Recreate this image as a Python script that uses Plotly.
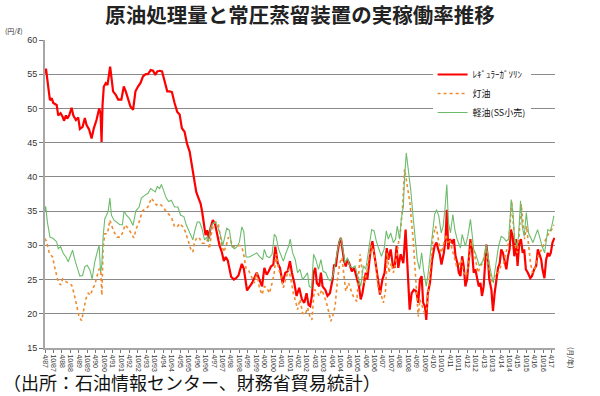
import plotly.graph_objects as go

# months since April 1987
gasoline_m = [0.0,0.7,2.4,3.5,4.7,5.9,8.3,9.4,11.1,12.5,13.5,14.9,15.8,17.2,18.9,20.1,22.0,23.6,24.8,26.7,28.3,29.5,31.4,33.1,34.7,36.6,38.5,39.5,40.2,40.9,41.8,43.2,44.4,45.6,46.3,47.3,48.4,50.3,52.0,54.3,56.0,57.4,59.1,60.7,62.6,64.3,66.1,67.8,69.7,71.6,
 73.2,75.1,76.8,78.4,79.8,81.5,83.2,85.0,86.9,88.6,90.2,92.1,94.0,95.7,97.3,99.2,100.9,102.8,104.0,105.4,106.3,107.5,109.1,110.6,111.7,112.9,114.1,115.3,116.5,117.6,119.3,121.0,122.4,124.0,125.7,127.1,128.5,129.9,131.1,132.3,134.2,135.8,137.5,138.9,139.9,141.3,142.5,143.6,
 147.2,148.8,150.5,152.4,154.3,155.9,157.6,159.0,160.6,162.3,163.7,165.4,167.0,168.9,170.8,172.5,174.1,175.5,177.2,178.8,180.7,182.6,184.3,185.9,187.3,188.5,189.7,190.9,192.1,193.2,194.9,196.1,197.3,199.2,200.8,202.5,204.4,205.5,206.7,207.9,209.1,210.3,211.4,212.6,213.8,215.0,216.2,218.1,219.7,
 221.6,223.2,224.4,225.6,226.8,228.0,229.1,230.3,231.5,232.7,233.9,235.1,236.7,238.1,239.8,241.4,242.9,244.0,245.7,247.3,248.5,249.9,251.1,252.8,254.7,256.3,257.5,259.2,260.6,262.2,263.9,265.3,266.5,267.7,268.8,270.0,271.0,272.1,273.6,275.2,276.9,278.3,279.5,280.6,281.8,283.5,284.7,285.6,286.6,287.7,289.4,290.6,291.8,293.4,
 294.1,295.3,296.5,297.6,298.8,300.0,301.2,302.4,303.5,304.7,305.9,307.1,308.3,309.5,310.6,311.8,313.0,313.7,314.9,315.8,317.3,318.4,319.6,320.8,322.0,323.2,324.3,325.5,326.7,327.9,329.1,330.2,331.2,332.4,333.6,334.7,335.9,337.1,338.3,339.5,340.6,341.8,343.2,344.9,346.1,347.7,349.1,350.3,351.5,352.7,353.6,355.0,356.2,357.4,358.4,359.5,360.7,362.1]
gasoline_v = [55.1,55.8,53.0,51.2,51.5,50.8,50.5,49.0,49.3,48.8,48.2,49.0,48.5,49.0,50.1,49.0,48.3,48.7,47.0,47.3,48.6,47.6,46.9,45.6,47.1,48.3,50.0,49.3,45.1,50.5,53.2,53.7,53.4,54.9,56.1,54.4,52.5,52.0,51.3,51.3,53.2,52.5,51.2,50.3,49.8,52.5,53.2,53.7,54.7,55.0,
 55.0,55.6,55.5,54.9,55.4,55.5,55.4,53.9,52.5,52.5,52.4,50.8,49.5,49.1,47.1,46.6,44.9,43.7,42.2,40.3,39.3,37.8,36.9,36.1,34.9,33.0,31.5,32.2,31.0,32.5,33.7,33.0,31.5,30.0,29.0,27.7,28.3,27.8,26.6,25.4,25.0,25.2,25.6,26.6,27.3,26.6,24.7,23.4,
 24.5,25.2,26.0,25.0,24.0,26.7,25.7,26.2,26.9,27.2,29.8,27.4,26.7,24.5,26.0,26.2,27.7,26.0,24.5,22.6,23.8,22.1,21.6,23.0,21.3,21.1,22.6,26.0,26.7,24.5,24.0,26.0,24.0,23.5,22.6,23.0,25.0,27.2,26.9,28.9,30.4,31.1,29.4,27.7,26.9,27.9,27.4,26.2,26.7,
 25.2,24.0,22.1,23.0,24.5,26.0,25.0,27.4,29.4,30.6,29.1,27.2,25.0,22.8,25.0,26.0,29.6,27.9,29.4,27.0,26.7,29.9,26.7,28.7,27.4,32.3,27.0,20.6,23.0,23.5,23.3,21.6,25.0,25.5,21.6,21.1,19.1,23.0,24.5,27.9,29.9,30.4,29.4,28.7,27.2,28.9,30.9,35.2,29.4,30.9,30.4,30.9,28.4,27.2,
 26.0,25.5,28.4,27.0,24.0,25.0,27.9,30.9,29.4,26.0,26.5,25.0,24.0,24.5,22.6,24.0,27.9,30.1,27.9,25.0,23.5,20.4,23.0,25.0,26.7,27.4,29.4,28.9,27.9,26.5,28.4,29.4,32.3,31.3,28.4,30.9,27.0,30.4,30.9,28.9,29.4,26.5,26.0,25.2,25.5,26.5,27.0,29.4,28.7,27.9,26.5,25.2,27.9,28.9,28.4,28.9,30.4,31.1]

kerosene_m = [0.0,1.2,3.1,5.4,7.1,9.4,11.1,12.5,14.9,17.2,18.9,20.6,22.4,24.3,26.0,27.2,29.1,30.7,32.4,33.8,35.4,37.1,38.5,39.7,40.4,41.3,42.5,44.4,46.1,47.2,48.9,51.3,53.6,55.5,56.9,59.1,61.4,63.1,65.0,66.9,69.2,71.6,
 73.2,75.6,77.5,79.1,81.5,83.9,86.2,88.6,90.2,92.1,94.0,95.7,98.0,99.7,101.6,103.5,105.1,106.3,108.2,109.9,111.5,113.4,115.3,116.9,118.1,120.0,121.7,123.3,125.2,127.1,128.8,130.4,131.8,133.5,135.8,138.2,139.9,141.3,142.9,144.6,
 147.2,148.8,150.5,152.4,154.3,155.9,157.6,159.5,161.4,163.0,164.2,166.1,167.7,169.4,171.3,173.2,174.8,176.5,178.4,179.5,181.2,183.1,185.0,186.6,188.3,189.7,191.4,193.2,194.9,196.8,198.4,200.1,201.5,203.2,204.8,206.2,207.9,209.5,211.0,212.1,213.8,215.7,217.3,219.0,
 221.6,222.5,224.0,225.6,226.8,228.7,230.3,232.0,233.4,235.1,236.7,238.6,240.5,242.1,243.3,244.5,246.2,247.6,249.2,250.9,252.8,254.2,255.6,256.8,258.0,259.4,260.6,261.7,262.9,264.1,265.3,266.5,268.1,269.8,271.2,272.9,274.5,275.9,277.6,278.8,280.4,281.8,283.5,285.1,286.3,287.7,289.4,291.0,292.5,
 294.1,296.0,297.6,299.3,301.2,303.1,304.7,306.4,307.8,309.5,311.1,313.0,314.7,316.1,317.7,318.9,320.6,322.4,324.1,326.0,327.6,329.5,330.7,331.7,332.8,334.3,335.7,337.1,338.5,339.7,340.9,342.3,343.7,345.1,346.5,348.0,349.6,351.3,353.2,355.1,356.7,358.4,360.2,361.7]
kerosene_v = [31.0,30.5,28.8,28.3,26.6,24.7,24.2,25.1,24.7,24.4,24.2,23.0,21.2,19.5,19.0,20.3,22.2,23.0,22.7,23.7,24.2,25.6,26.6,26.1,22.7,29.5,31.7,31.7,33.7,33.0,32.0,31.2,31.2,32.0,33.0,32.5,31.7,31.1,32.5,33.4,35.0,35.4,
 35.6,36.9,36.4,35.9,36.1,35.6,34.9,34.4,33.9,32.7,32.7,33.2,32.7,32.0,30.8,29.5,29.0,30.5,31.2,31.0,30.3,30.3,30.8,29.5,31.5,33.2,33.4,33.0,30.5,29.0,30.0,31.2,30.8,29.8,29.8,30.0,29.8,28.6,26.6,26.4,
 25.2,24.5,26.0,23.8,22.8,24.0,23.8,23.0,24.5,26.0,28.7,26.5,25.5,23.8,25.2,26.5,25.0,23.0,21.6,20.6,22.1,20.1,19.9,20.9,19.6,19.1,23.5,23.3,22.6,23.5,22.6,21.6,20.4,18.9,19.9,21.1,25.0,27.4,28.2,26.0,23.3,24.5,23.5,22.6,
 21.8,25.0,28.7,26.0,24.5,26.0,28.4,29.9,29.4,27.0,24.0,23.0,21.6,23.5,28.9,26.0,27.4,26.0,27.4,29.9,32.3,35.7,41.1,39.6,38.2,36.2,33.3,30.9,27.0,22.6,19.6,22.1,21.1,20.1,20.6,24.0,27.9,31.3,32.8,31.8,29.9,28.9,30.4,31.6,30.4,30.9,29.4,27.9,27.0,
 27.0,27.9,26.0,25.5,27.4,30.9,29.4,27.4,26.0,27.0,27.4,29.4,27.4,26.2,24.8,25.0,26.0,26.0,27.0,27.4,28.9,30.4,33.3,36.5,33.3,29.9,28.9,31.8,36.0,33.3,30.9,32.8,29.9,27.4,26.0,26.5,27.9,28.9,29.4,30.4,31.3,31.8,32.3,33.0]

diesel_m = [0.0,0.5,1.7,3.5,5.9,8.3,9.4,11.1,13.0,14.9,16.5,18.2,19.6,21.3,23.2,24.8,26.7,28.3,30.0,31.9,33.5,35.4,37.1,38.5,39.5,40.4,41.3,42.5,43.7,44.9,46.1,47.2,48.9,50.8,53.2,55.0,56.2,57.9,60.2,62.6,64.5,66.9,68.5,70.9,
 73.2,75.1,76.8,78.4,79.8,81.5,82.7,84.3,86.2,87.9,89.8,92.1,94.5,96.4,98.7,100.4,102.8,105.1,106.3,108.2,109.9,111.5,113.4,115.0,116.2,117.6,119.3,121.2,122.8,124.7,126.4,127.6,129.2,131.1,132.8,134.7,136.5,138.2,139.9,141.3,142.9,145.3,
 148.8,150.5,152.4,154.7,155.9,157.6,159.5,161.4,163.0,164.2,166.1,167.7,169.4,171.3,173.2,174.3,176.0,177.9,179.5,181.2,183.1,185.0,186.6,187.8,189.5,190.9,192.5,194.4,196.1,197.7,199.6,201.5,203.2,204.8,206.2,207.9,209.1,210.5,211.9,213.3,215.0,216.6,218.5,220.4,
 221.6,223.2,224.4,226.3,228.0,229.6,231.0,232.2,233.9,235.5,237.4,239.1,241.0,242.6,244.0,245.7,247.6,249.2,250.4,252.1,253.2,254.7,255.6,256.8,258.2,259.9,261.5,262.9,264.6,266.2,267.7,269.3,271.0,272.4,274.0,275.5,276.9,278.3,279.9,281.6,283.0,284.4,285.6,286.8,288.2,289.9,291.3,292.9,294.8,
 295.3,296.5,297.6,298.8,300.5,302.4,303.5,304.7,305.9,307.1,308.7,310.2,311.8,313.5,314.9,316.1,317.3,318.7,319.6,320.8,322.4,324.3,326.0,327.9,329.5,330.7,331.4,332.6,333.8,335.4,336.6,338.0,339.2,340.6,342.1,343.7,345.4,346.8,348.4,350.1,351.5,353.2,355.1,356.2,357.4,359.1,360.2,361.7]
diesel_v = [35.0,35.7,33.4,31.2,31.0,30.5,29.5,29.8,28.8,28.3,27.6,28.6,29.3,27.8,26.4,25.5,25.6,26.9,27.1,26.4,25.1,27.6,29.0,30.0,26.1,27.1,31.2,33.9,34.4,35.0,36.9,34.4,33.7,33.4,33.0,33.0,35.0,34.4,33.9,32.9,35.0,35.6,36.9,37.3,
 37.6,38.3,38.1,37.8,38.6,38.3,38.9,38.1,36.9,36.4,36.6,35.6,35.6,34.4,34.2,33.0,32.0,30.8,32.0,33.4,33.4,32.5,30.8,31.2,30.5,32.5,33.2,33.4,32.7,31.5,30.0,31.2,32.5,32.2,29.8,29.5,29.8,30.5,32.7,32.0,28.3,28.3,
 28.7,28.9,28.4,27.9,29.4,28.4,28.2,28.7,31.6,31.3,29.4,28.7,27.7,28.9,29.9,30.9,28.9,27.9,26.0,26.5,25.0,25.5,26.0,24.0,23.8,28.7,27.9,26.5,27.9,26.2,26.0,25.0,24.8,25.7,27.4,29.1,30.6,31.1,29.4,27.4,28.2,27.0,26.7,27.0,
 26.0,25.0,24.0,27.0,26.5,28.7,30.9,32.3,32.1,30.6,29.4,28.4,29.4,32.1,30.9,31.8,30.4,30.9,32.8,30.9,33.8,35.7,40.1,43.5,41.1,38.2,34.5,30.9,27.9,26.5,28.9,26.0,24.0,26.0,29.4,32.3,34.5,35.2,34.3,31.8,32.8,35.6,38.9,33.3,31.8,34.5,32.3,30.9,29.9,
 29.6,31.6,30.9,29.9,31.3,33.8,31.8,29.4,28.9,27.9,27.0,27.4,27.9,30.1,28.7,27.0,25.7,24.5,26.0,27.9,29.9,31.3,31.1,30.6,30.9,34.3,36.7,34.8,30.9,29.9,31.3,36.5,32.8,31.3,34.8,31.8,30.9,30.4,31.3,32.3,31.3,29.9,28.9,30.9,32.3,32.1,32.8,34.3]

tick_months = list(range(0, 361, 6))
tick_labels = ["4/87","10/87","4/88","10/88","4/89","10/89","4/90","10/90","4/91","10/91",
               "4/92","10/92","4/93","10/93","4/94","10/94","4/95","10/95","4/96","10/96",
               "4/97","10/97","4/98","10/98","4/99","10/99","4/00","10/00","4/01","10/01",
               "4/02","10/02","4/03","10/03","4/04","10/04","4/05","10/05","4/06","10/06",
               "4/07","10/07","4/08","10/08","4/09","10/09","4/10","10/10","4/11","10/11",
               "4/12","10/12","4/13","10/13","4/14","10/14","4/15","10/15","4/16","10/16","4/17"]
series_names = ["ﾚｷﾞｭﾗｰｶﾞｿﾘﾝ", "灯油", "軽油(SS小売)"]

JP = "Noto Sans CJK JP"

fig = go.Figure()
fig.add_trace(go.Scatter(x=gasoline_m, y=gasoline_v, mode="lines", name=series_names[0],
                         line=dict(color="#ff0000", width=2.2)))
fig.add_trace(go.Scatter(x=kerosene_m, y=kerosene_v, mode="lines", name=series_names[1],
                         line=dict(color="#f08a2c", width=1.6, dash="dot")))
fig.add_trace(go.Scatter(x=diesel_m, y=diesel_v, mode="lines", name=series_names[2],
                         line=dict(color="#6cbc6c", width=1.1)))

fig.update_layout(
    width=600, height=396,
    margin=dict(l=45, r=45, t=40, b=48),
    paper_bgcolor="white", plot_bgcolor="white",
    font=dict(family=JP, color="#222"),
    title=dict(text="<b>原油処理量と常圧蒸留装置の実稼働率推移</b>",
               x=0.5, xanchor="center", y=0.961, yanchor="middle",
               font=dict(size=20.5, family=JP, color="#222")),
    legend=dict(x=0.76, y=0.935, xanchor="left", yanchor="top",
                bgcolor="white", font=dict(size=9, family=JP, color="#111"),
                itemwidth=30, tracegroupgap=5),
    showlegend=True,
)
fig.update_xaxes(range=[0, 362.5], tickmode="array", tickvals=tick_months, ticktext=tick_labels,
                 tickangle=90, tickfont=dict(size=7, family="Liberation Sans", color="#333"),
                 showgrid=False, zeroline=False, showline=True, linecolor="#a6a6a6", linewidth=2,
                 ticks="outside", ticklen=3, tickcolor="#777", automargin=False)
fig.update_yaxes(range=[15, 60], dtick=5, tickfont=dict(size=9, family="Liberation Sans", color="#333"),
                 showgrid=True, gridcolor="#8a8a8a", gridwidth=1.2, zeroline=False,
                 showline=True, linecolor="#a6a6a6", linewidth=2,
                 ticks="outside", ticklen=4, tickcolor="#777", automargin=False)

fig.add_annotation(text="(円/ℓ)", xref="paper", yref="paper", x=-0.06, y=1.03,
                   xanchor="center", yanchor="middle", showarrow=False,
                   font=dict(size=7, family=JP, color="#333"))
fig.add_annotation(text="(月/年)", xref="paper", yref="paper", x=1.03, y=-0.03,
                   xanchor="center", yanchor="middle", showarrow=False, textangle=90,
                   font=dict(size=7, family=JP, color="#333"))
fig.add_annotation(text="（出所：石油情報センター、財務省貿易統計）", xref="paper", yref="paper",
                   x=-0.086, y=-0.11, xanchor="left", yanchor="middle", showarrow=False,
                   font=dict(size=18, family=JP, color="#111"))

fig.write_html("out.html", config={"displayModeBar": False},
               post_script="document.body.style.margin='0';")
